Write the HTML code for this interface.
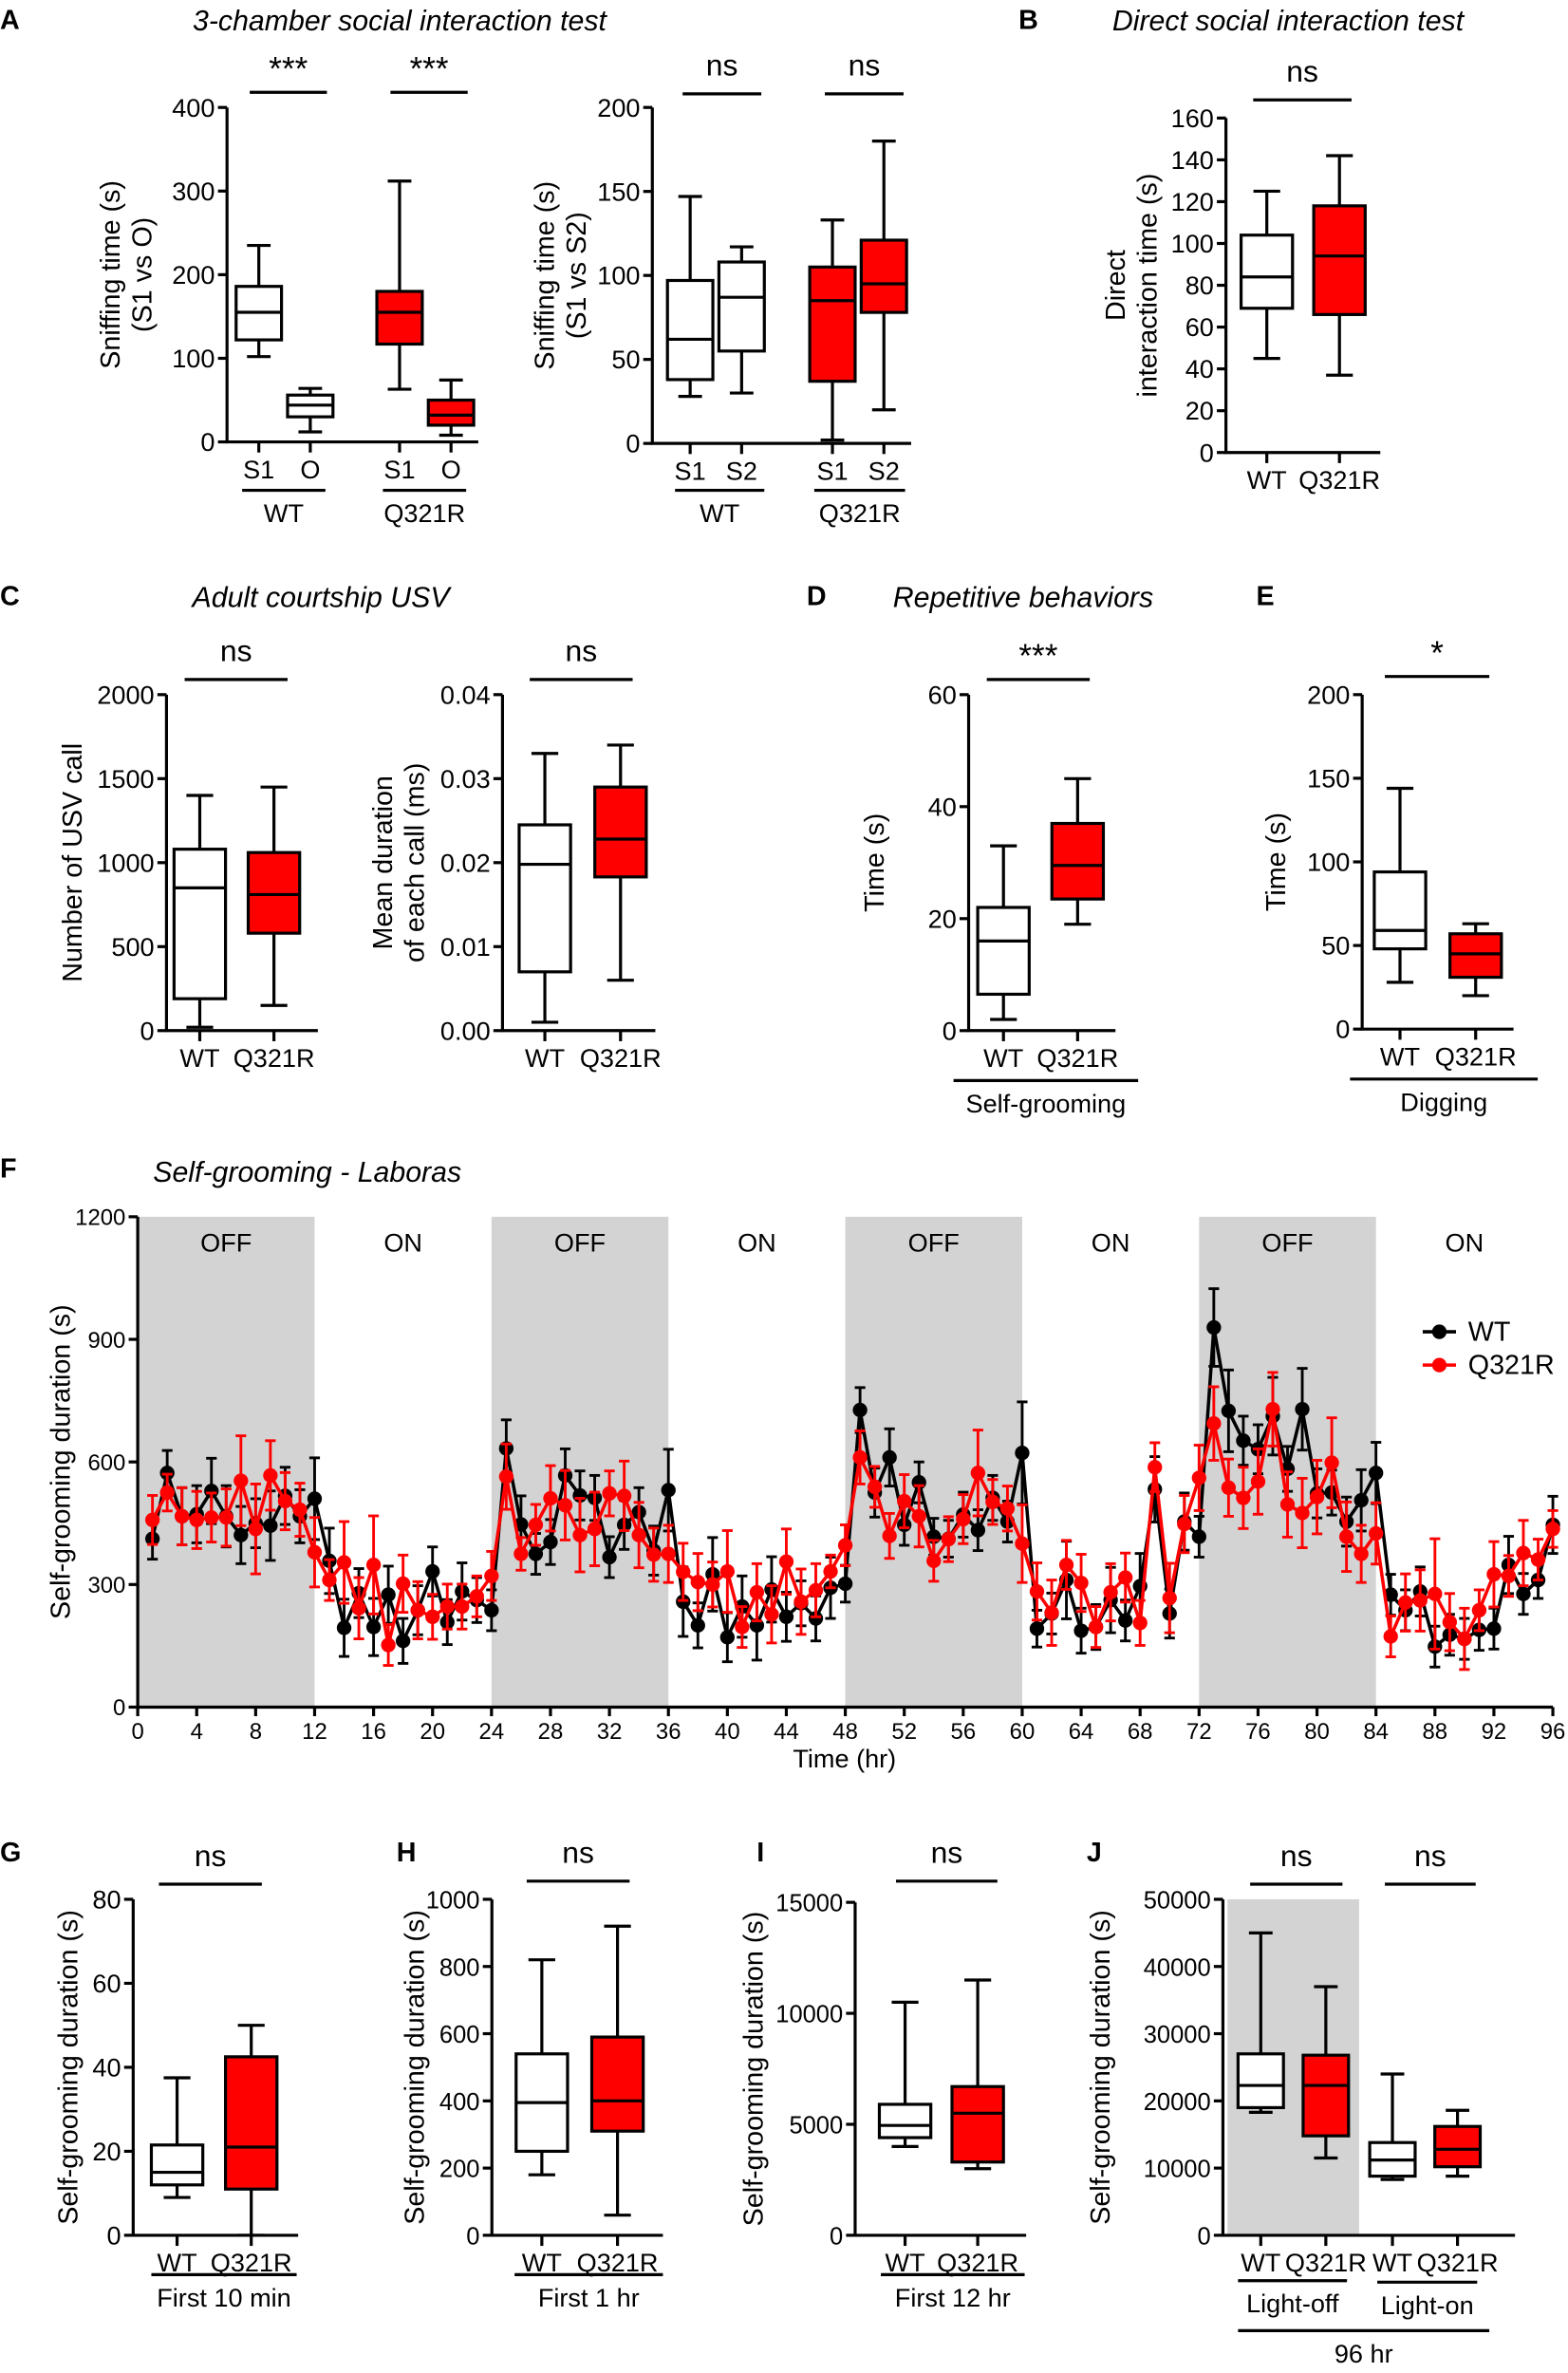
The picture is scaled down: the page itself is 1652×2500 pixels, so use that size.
<!DOCTYPE html>
<html><head><meta charset="utf-8"><style>
html,body{margin:0;padding:0;background:#fff}
svg{display:block}
text{font-family:"Liberation Sans",Arial,sans-serif;fill:#000}
</style></head><body>
<svg id="fig" width="1652" height="2500" viewBox="0 0 1036 1568" preserveAspectRatio="none" xmlns="http://www.w3.org/2000/svg"></svg>
<script>
// ---------- Panel F data (hourly means) ----------
const hours = [];
for (let h = 1; h <= 96; h++) hours.push(h);
const wtMeans = [412,573,467,472,529,467,421,450,444,517,467,510,358,194,279,196,275,162,237,332,208,283,262,237,
633,447,375,404,567,518,512,367,446,477,383,531,258,200,325,171,246,200,288,221,254,217,292,302,
727,525,611,446,550,417,412,471,433,512,454,622,192,229,311,187,196,262,212,296,533,229,454,417,
929,725,652,631,712,583,729,523,525,454,506,573,275,237,283,148,177,167,189,192,348,277,311,446];
const q321rMeans = [458,525,467,458,464,464,554,436,567,504,483,379,311,354,242,348,152,302,237,221,246,246,271,321,
564,375,446,511,494,421,436,523,517,421,373,375,331,306,300,332,196,281,227,356,258,286,332,396,
611,539,419,504,467,358,411,460,573,502,486,400,283,231,348,304,196,281,317,206,587,267,448,561,
694,537,512,552,729,496,475,514,598,417,375,425,173,256,261,277,208,167,237,325,321,377,361,436];
const wtErr = [50,55,70,70,80,75,70,60,85,70,65,100,80,70,60,70,70,55,60,60,55,70,55,50,
70,70,50,55,65,60,55,50,60,60,60,100,85,55,90,60,75,85,80,60,55,55,75,45,
55,60,70,50,50,45,45,55,50,55,50,125,45,50,95,55,55,80,50,80,80,60,70,50,
95,100,60,60,95,55,100,60,55,60,75,75,50,50,60,50,50,50,50,50,70,50,45,70];
const q321rErr = [60,45,70,70,60,70,110,110,85,70,65,85,50,100,75,120,50,70,70,55,55,55,50,60,
80,40,50,80,85,90,90,55,85,80,65,70,70,70,55,100,50,70,70,80,80,65,40,50,
65,50,55,65,75,50,55,60,105,55,55,95,70,80,60,70,50,70,60,55,60,85,70,80,
90,70,75,80,90,80,85,90,110,85,70,75,50,70,75,135,70,75,50,80,50,80,50,45];
const fXTicks = [0,4,8,12,16,20,24,28,32,36,40,44,48,52,56,60,64,68,72,76,80,84,88,92,96];
const fYTicks = [0,300,600,900,1200];
const lightPhases = ["OFF","ON","OFF","ON","OFF","ON","OFF","ON"];

// ---------- Box-plot data: [min, q1, median, q3, max] ----------
const a1Labels = ["S1","O","S1","O"];
const a1Boxes = [[102,122,155,186,235],[12,30,44,56,64],[63,117,155,180,312],[8,20,32,50,74]];
const a2Labels = ["S1","S2","S1","S2"];
const a2Boxes = [[28,38,62,97,147],[30,55,87,108,117],[2,37,85,105,133],[20,78,95,121,180]];
const bLabels = ["WT","Q321R"];
const bBoxes = [[45,69,84,104,125],[37,66,94,118,142]];
const c1Boxes = [[20,190,850,1080,1400],[150,580,810,1060,1450]];
const c2Boxes = [[0.001,0.007,0.0198,0.0245,0.033],[0.006,0.0183,0.0228,0.029,0.034]];
const dBoxes = [[2,6.5,16,22,33],[19,23.5,29.5,37,45]];
const eBoxes = [[28,48,59,94,144],[20,31,45,57,63]];
const gBoxes = [[9,12,15,21.5,37.5],[0,11,21,42.5,50]];
const hBoxes = [[180,250,395,540,820],[60,310,400,590,920]];
const iBoxes = [[4000,4400,4950,5900,10500],[3000,3300,5500,6700,11500]];
const jLabels = ["WT","Q321R","WT","Q321R"];
const jBoxes = [[18300,19000,22300,27000,45000],[11500,14800,22300,26800,37000],[8300,8800,11200,13800,24000],[8800,10200,12800,16200,18600]];

const NS = "http://www.w3.org/2000/svg";
const svg = document.getElementById("fig");
function mk(tag, attrs, parent, txt) {
  const e = document.createElementNS(NS, tag);
  for (const k in attrs) e.setAttribute(k, attrs[k]);
  if (txt !== undefined) e.textContent = txt;
  (parent || svg).appendChild(e);
  return e;
}
function line(x1,y1,x2,y2,p,stroke,w){return mk("line",{x1,y1,x2,y2,stroke:stroke||"#000","stroke-width":w||2},p);}
function txt(x,y,s,p,size,anchor,extra){const a={x,y,"font-size":size||16,"text-anchor":anchor||"middle"};if(extra)Object.assign(a,extra);return mk("text",a,p,s);}

function boxPanel(cfg){
  const g = mk("g",{});
  
  
  const ys = v => cfg.y0 - (v/cfg.vmax)*(cfg.y0-cfg.ytop);
  if (cfg.shade) {
    const r = mk("rect",{x:cfg.shade[0],y:cfg.ytop,width:cfg.shade[1]-cfg.shade[0],height:cfg.y0-cfg.ytop,fill:"#d3d3d3"},g);
    
    
  }
  const ax = line(cfg.x0,cfg.ytop,cfg.x0,cfg.y0,g);
  
  
  cfg.ticks.forEach((t,i)=>{
    const y = ys(t);
    line(cfg.x0-6,y,cfg.x0,y,g);
    const tl = txt(cfg.x0-8,y+6,cfg.tickLabels?cfg.tickLabels[i]:String(t),g,cfg.tickSize||17,"end");
    
    
  });
  const xa = line(cfg.x0-1,cfg.y0,cfg.xend,cfg.y0,g);
  
  
  cfg.boxes.forEach((b,i)=>{
    const cx = cfg.xs[i], w = cfg.bw||34, red = cfg.red[i];
    const bg = mk("g",{},g);
    
    
    line(cx,ys(b[0]),cx,ys(b[1]),bg);
    line(cx,ys(b[3]),cx,ys(b[4]),bg);
    line(cx-w*0.26,ys(b[0]),cx+w*0.26,ys(b[0]),bg);
    line(cx-w*0.26,ys(b[4]),cx+w*0.26,ys(b[4]),bg);
    mk("rect",{x:cx-w/2,y:ys(b[3]),width:w,height:ys(b[1])-ys(b[3]),fill:red?"#ff0000":"#fff",stroke:"#000","stroke-width":2},bg);
    line(cx-w/2,ys(b[2]),cx+w/2,ys(b[2]),bg);
    line(cx,cfg.y0,cx,cfg.y0+7,g);
    const lab = txt(cx,cfg.y0+24,cfg.labels[i],g,17);
    
    
  });
  const ty = (cfg.ytop+cfg.y0)/2;
  cfg.ytitle.forEach((s,i)=>{
    const t = txt(cfg.tx + i*21, ty, s, g, 18, "middle", {transform:`rotate(-90 ${cfg.tx+i*21} ${ty})`});
    
    
  });
  (cfg.sig||[]).forEach(s=>{
    line(s[0],s[2],s[1],s[2],g);
    const st = txt((s[0]+s[1])/2,s[2]-(s[3]==="ns"?12:8),s[3],g,s[3]==="ns"?20:22);
    
    
  });
  (cfg.groups||[]).forEach(s=>{
    line(s[0],s[2],s[1],s[2],g);
    const gt = txt((s[0]+s[1])/2,s[2]+21,s[3],g,17);
    
    
  });
  return g;
}
function heading(x,y,s,name){const t=txt(x,y,s,svg,19,"middle",{"font-style":"italic"});}
function letter(x,y,s){const t=txt(x,y,s,svg,18,"start",{"font-weight":"bold"});}

[["A",0,19],["B",673,19],["C",0,400],["D",533,400],["E",830,400],["F",0,778],["G",0,1230],["H",262,1230],["I",500,1230],["J",718,1230]].forEach(l=>letter(l[1],l[2],l[0]));
heading(264,20,"3-chamber social interaction test","title-3-chamber");
heading(851,20,"Direct social interaction test","title-direct-social");
heading(212,401,"Adult courtship USV","title-usv");
heading(676,401,"Repetitive behaviors","title-repetitive");
heading(203,781,"Self-grooming - Laboras","title-laboras");

boxPanel({name:"panel-a-s1-vs-o",x0:150,y0:292,ytop:71,vmax:400,ticks:[0,100,200,300,400],xend:316,xs:[171,205,264,298],bw:30,red:[0,0,1,1],labels:a1Labels,boxes:a1Boxes,ytitle:["Sniffing time (s)","(S1 vs O)"],tx:79,
  sig:[[165,216,61,"***"],[258,309,61,"***"]],groups:[[160,215,324,"WT"],[253,308,324,"Q321R"]]});
boxPanel({name:"panel-a-s1-vs-s2",x0:431,y0:293,ytop:71,vmax:200,ticks:[0,50,100,150,200],xend:602,xs:[456,490,550,584],bw:30,red:[0,0,1,1],labels:a2Labels,boxes:a2Boxes,ytitle:["Sniffing time (s)","(S1 vs S2)"],tx:366,
  sig:[[451,503,62,"ns"],[545,597,62,"ns"]],groups:[[446,505,324,"WT"],[538,598,324,"Q321R"]]});
boxPanel({name:"panel-b-direct",x0:810,y0:299,ytop:78,vmax:160,ticks:[0,20,40,60,80,100,120,140,160],xend:912,xs:[837,885],bw:34,red:[0,1],labels:bLabels,boxes:bBoxes,ytitle:["Direct","interaction time (s)"],tx:743,
  sig:[[828,893,66,"ns"]]});
boxPanel({name:"panel-c-usv-count",x0:110,y0:681,ytop:459,vmax:2000,ticks:[0,500,1000,1500,2000],xend:210,xs:[132,181],bw:34,red:[0,1],labels:bLabels,boxes:c1Boxes,ytitle:["Number of USV call"],tx:54,
  sig:[[122,190,449,"ns"]]});
boxPanel({name:"panel-c-usv-duration",x0:332,y0:681,ytop:459,vmax:0.04,ticks:[0,0.01,0.02,0.03,0.04],tickLabels:["0.00","0.01","0.02","0.03","0.04"],xend:433,xs:[360,410],bw:34,red:[0,1],labels:bLabels,boxes:c2Boxes,ytitle:["Mean duration","of each call (ms)"],tx:259,
  sig:[[350,418,449,"ns"]]});
boxPanel({name:"panel-d-self-grooming",x0:640,y0:681,ytop:459,vmax:60,ticks:[0,20,40,60],xend:737,xs:[663,712],bw:34,red:[0,1],labels:bLabels,boxes:dBoxes,ytitle:["Time (s)"],tx:584,
  sig:[[652,720,449,"***"]],groups:[[630,752,714,"Self-grooming"]]});
boxPanel({name:"panel-e-digging",x0:900,y0:680,ytop:459,vmax:200,ticks:[0,50,100,150,200],xend:1000,xs:[925,975],bw:34,red:[0,1],labels:bLabels,boxes:eBoxes,ytitle:["Time (s)"],tx:849,
  sig:[[915,984,447,"*"]],groups:[[892,1016,713,"Digging"]]});
boxPanel({name:"panel-g-first-10-min",x0:88,y0:1477,ytop:1255,vmax:80,ticks:[0,20,40,60,80],xend:197,xs:[117,166],bw:34,red:[0,1],labels:bLabels,boxes:gBoxes,ytitle:["Self-grooming duration (s)"],tx:51,
  sig:[[105,173,1245,"ns"]],groups:[[100,196,1503,"First 10 min"]]});
boxPanel({name:"panel-h-first-1-hr",x0:325,y0:1477,ytop:1255,vmax:1000,ticks:[0,200,400,600,800,1000],tickSize:16,xend:438,xs:[358,408],bw:34,red:[0,1],labels:bLabels,boxes:hBoxes,ytitle:["Self-grooming duration (s)"],tx:280,
  sig:[[348,416,1243,"ns"]],groups:[[340,438,1503,"First 1 hr"]]});
boxPanel({name:"panel-i-first-12-hr",x0:565,y0:1477,ytop:1257,vmax:15000,ticks:[0,5000,10000,15000],tickSize:16,xend:678,xs:[598,646],bw:34,red:[0,1],labels:bLabels,boxes:iBoxes,ytitle:["Self-grooming duration (s)"],tx:504,
  sig:[[592,659,1243,"ns"]],groups:[[582,677,1503,"First 12 hr"]]});
boxPanel({name:"panel-j-96-hr",x0:808,y0:1477,ytop:1255,vmax:50000,ticks:[0,10000,20000,30000,40000,50000],tickSize:16,xend:1001,xs:[833,876,920,963],bw:30,red:[0,1,0,1],labels:jLabels,boxes:jBoxes,ytitle:["Self-grooming duration (s)"],tx:733,shade:[811,898],
  sig:[[826,887,1245,"ns"],[915,975,1245,"ns"]],groups:[[818,890,1507,"Light-off"],[910,976,1508,"Light-on"],[818,984,1540,"96 hr"]]});

// ---------- Panel F line chart ----------
(function(){
  const g = mk("g",{});
  
  
  const X0=91, X1=1026, Y0=1128, YT=804;
  const xs = h => X0 + h/96*(X1-X0);
  const ys = v => Y0 - v/1200*(Y0-YT);
  lightPhases.forEach((p,i)=>{
    if (p==="OFF") {
      const r = mk("rect",{x:xs(i*12),y:YT,width:xs(12)-xs(0),height:Y0-YT,fill:"#d3d3d3"},g);
      
      
    }
    const t = txt(xs(i*12+6),827,p,g,17);
    
    
  });
  const ya = line(X0,YT,X0,Y0,g);
  
  
  fYTicks.forEach(t=>{line(X0-6,ys(t),X0,ys(t),g);const l=txt(X0-8,ys(t)+5.5,String(t),g,15,"end");});
  const xa = line(X0-1,Y0,X1,Y0,g);
  
  
  fXTicks.forEach(t=>{line(xs(t),Y0,xs(t),Y0+6,g);const l=txt(xs(t),Y0+21,String(t),g,15);});
  const xt = txt(558,1168,"Time (hr)",g,17);
  
  
  const yt = txt(46,966,"Self-grooming duration (s)",g,18,"middle",{transform:"rotate(-90 46 966)"});
  
  
  function series(means, errs, color, name){
    const sg = mk("g",{},g);
    
    
    means.forEach((m,i)=>{
      const x = xs(hours[i]);
      const e = errs[i];
      const y1 = ys(m+e), y2 = ys(m-e);
      line(x,y1,x,y2,sg,color,1.8);
      line(x-3.5,y1,x+3.5,y1,sg,color,1.8);
      line(x-3.5,y2,x+3.5,y2,sg,color,1.8);
    });
    const pts = means.map((m,i)=>xs(hours[i]).toFixed(1)+","+ys(m).toFixed(1)).join(" ");
    mk("polyline",{points:pts,fill:"none",stroke:color,"stroke-width":2.2},sg);
    means.forEach((m,i)=>{
      const c = mk("circle",{cx:xs(hours[i]),cy:ys(m),r:4.8,fill:color},sg);
      
      
    });
  }
  series(wtMeans, wtErr, "#000", "wt-series");
  series(q321rMeans, q321rErr, "#ff0000", "q321r-series");
  [["WT","#000",880],["Q321R","#ff0000",902]].forEach(l=>{
    const lg = mk("g",{},g);
    
    
    line(940,l[2],962,l[2],lg,l[1],2.2);
    mk("circle",{cx:951,cy:l[2],r:4.8,fill:l[1]},lg);
    txt(970,l[2]+6,l[0],lg,18,"start");
  });
})();
</script>
</body></html>
